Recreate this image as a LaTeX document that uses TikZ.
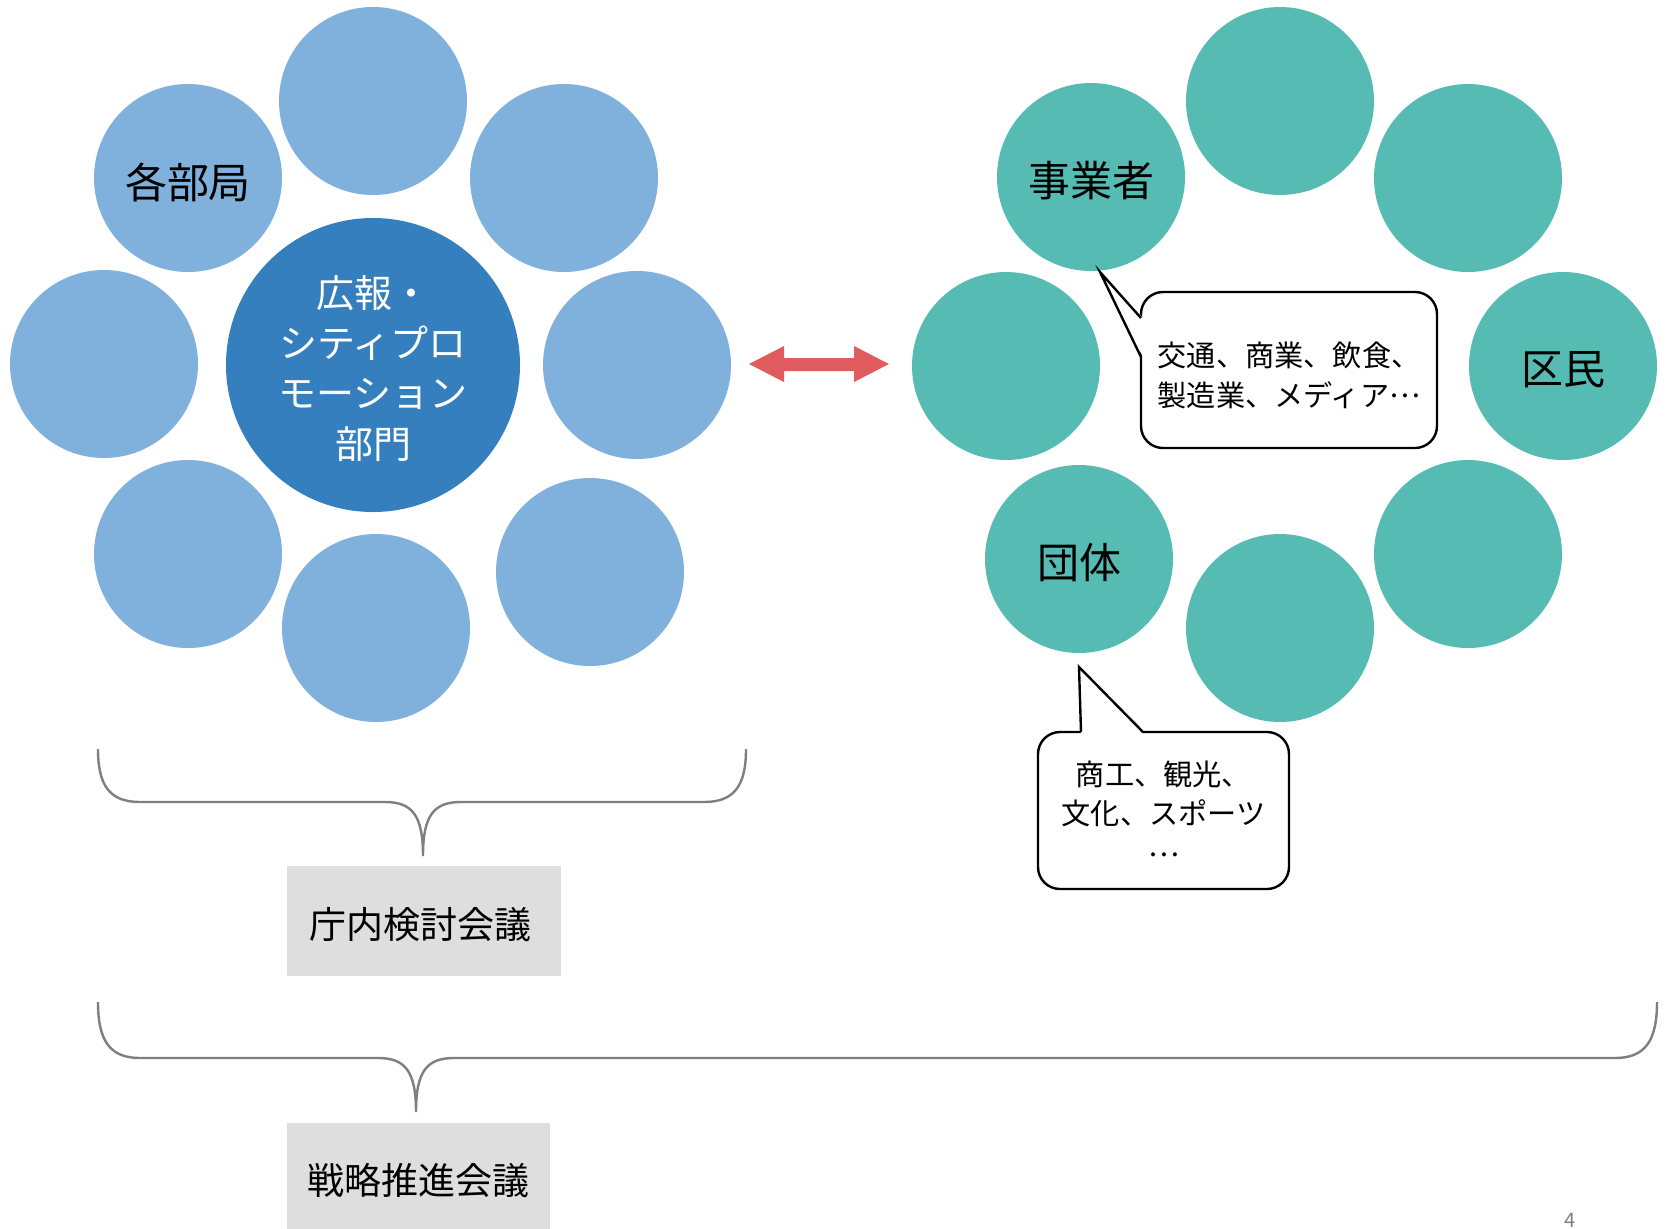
\documentclass[tikz,border=0pt]{standalone}
\usepackage{fontspec}
\setmainfont{Noto Sans CJK JP}
\definecolor{lb}{HTML}{7FB1DC}
\definecolor{db}{HTML}{357FBE}
\definecolor{tl}{HTML}{55BBB3}
\definecolor{ar}{HTML}{E05B5E}
\definecolor{gb}{HTML}{DEDEDE}
\definecolor{br}{HTML}{7F7F7F}
\newcommand{\midell}[1]{\raisebox{#1}{…}}
\begin{document}
\begin{tikzpicture}[x=0.5pt,y=-0.5pt,
  lcirc/.style={circle, fill=lb, minimum size=94pt, inner sep=0pt},
  tcirc/.style={circle, fill=tl, minimum size=94pt, inner sep=0pt},
  bigcirc/.style={circle, fill=db, minimum size=147pt, inner sep=0pt},
  circlabel/.style={inner sep=0pt, yshift=-2pt, font=\fontsize{21pt}{25pt}\selectfont},
  biglabel/.style={inner sep=0pt, yshift=-1.6pt, text=white, align=center, font=\fontsize{19pt}{25.2pt}\selectfont},
  callbox/.style={draw=black, line width=1.2pt, fill=white, rounded corners=11pt, inner sep=0pt},
  calltext/.style={inner sep=0pt, align=center},
  callptr/.style={draw=black, line width=1.2pt, line join=miter},
  graybox/.style={fill=gb, inner sep=0pt},
  graytext/.style={inner sep=0pt, yshift=-2pt, font=\fontsize{18.5pt}{22pt}\selectfont},
  bracepath/.style={draw=br, line width=1.2pt}
]
\useasboundingbox[fill=white] (0,0) rectangle (1672,1228);

% left group
\node[lcirc] (l1) at (373,101) {};
\node[lcirc] (l2) at (188,178) {};
\node[lcirc] (l3) at (564,178) {};
\node[lcirc] (l4) at (104,364) {};
\node[lcirc] (l5) at (637,365) {};
\node[lcirc] (l6) at (188,554) {};
\node[lcirc] (l7) at (376,628) {};
\node[lcirc] (l8) at (590,572) {};
\node[bigcirc] (center) at (373,365) {};
\node[circlabel] (l2t) at (l2) {各部局};
\node[biglabel] (centert) at (center) {広報・\\シティプロ\\モーション\\部門};

% right group
\node[tcirc] (r1) at (1091,177) {};
\node[tcirc] (r2) at (1280,101) {};
\node[tcirc] (r3) at (1468,178) {};
\node[tcirc] (r4) at (1006,366) {};
\node[tcirc] (r5) at (1563,366) {};
\node[tcirc] (r6) at (1079,559) {};
\node[tcirc] (r7) at (1280,628) {};
\node[tcirc] (r8) at (1468,554) {};
\node[circlabel] (r1t) at (r1) {事業者};
\node[circlabel] (r5t) at (r5) {区民};
\node[circlabel] (r6t) at (r6) {団体};

% double arrow
\fill[ar] (749,364) -- (784,346) -- (784,358) -- (854,358) -- (854,346) -- (889,364)
  -- (854,382) -- (854,371) -- (784,371) -- (784,382) -- cycle;

% callout 1
\node[callbox, minimum width=148pt, minimum height=78pt] (cb1) at (1289,370) {};
\coordinate (t1) at (1100,272);
\fill[white] (1143,318) -- (t1) -- (1143,357) -- cycle;
\draw[callptr] (1141,318) -- (t1) -- (1141,357);
\node[calltext, yshift=-2.5pt, font=\fontsize{14.6pt}{20pt}\selectfont] (cb1t) at (cb1)
  {交通、商業、飲食、\\製造業、メディア\midell{0.3em}};

% callout 2
\node[callbox, minimum width=125.5pt, minimum height=78.5pt] (cb2) at (1163.5,810.5) {};
\coordinate (t2) at (1079,667);
\fill[white] (1081,734) -- (t2) -- (1143,734) -- cycle;
\draw[callptr] (1081,732) -- (t2) -- (1143,732);
\node[calltext, yshift=-1pt, font=\fontsize{14.6pt}{19.5pt}\selectfont] (cb2t) at (cb2)
  {商工、観光、\\文化、スポーツ\\\midell{0.25em}};

% braces
\coordinate (b1tip) at (423,856);
\draw[bracepath] (98,749) .. controls (98,786) and (110,802) .. (140,802) -- (385,802)
  .. controls (412,802) and (423,815) .. (b1tip)
  .. controls (423,815) and (434,802) .. (461,802) -- (704,802)
  .. controls (734,802) and (746,786) .. (746,749);
\coordinate (b2tip) at (416,1112);
\draw[bracepath] (98,1002) .. controls (98,1041) and (110,1058) .. (140,1058) -- (378,1058)
  .. controls (405,1058) and (416,1071) .. (b2tip)
  .. controls (416,1071) and (427,1058) .. (454,1058) -- (1615,1058)
  .. controls (1645,1058) and (1657,1041) .. (1657,1002);

% gray boxes
\node[graybox, minimum width=137pt, minimum height=55pt] (g1) at (424,921) {};
\node[graybox, minimum width=131.5pt, minimum height=53pt] (g2) at (418.5,1175.5) {};
\node[graytext, xshift=-2pt] (g1t) at (g1) {庁内検討会議};
\node[graytext, yshift=-0.5pt] (g2t) at (g2) {戦略推進会議};

% page number
\node[text=br, font=\fontsize{10pt}{12pt}\selectfont, inner sep=0pt] (pg) at (1570,1220) {4};
\end{tikzpicture}
\end{document}
